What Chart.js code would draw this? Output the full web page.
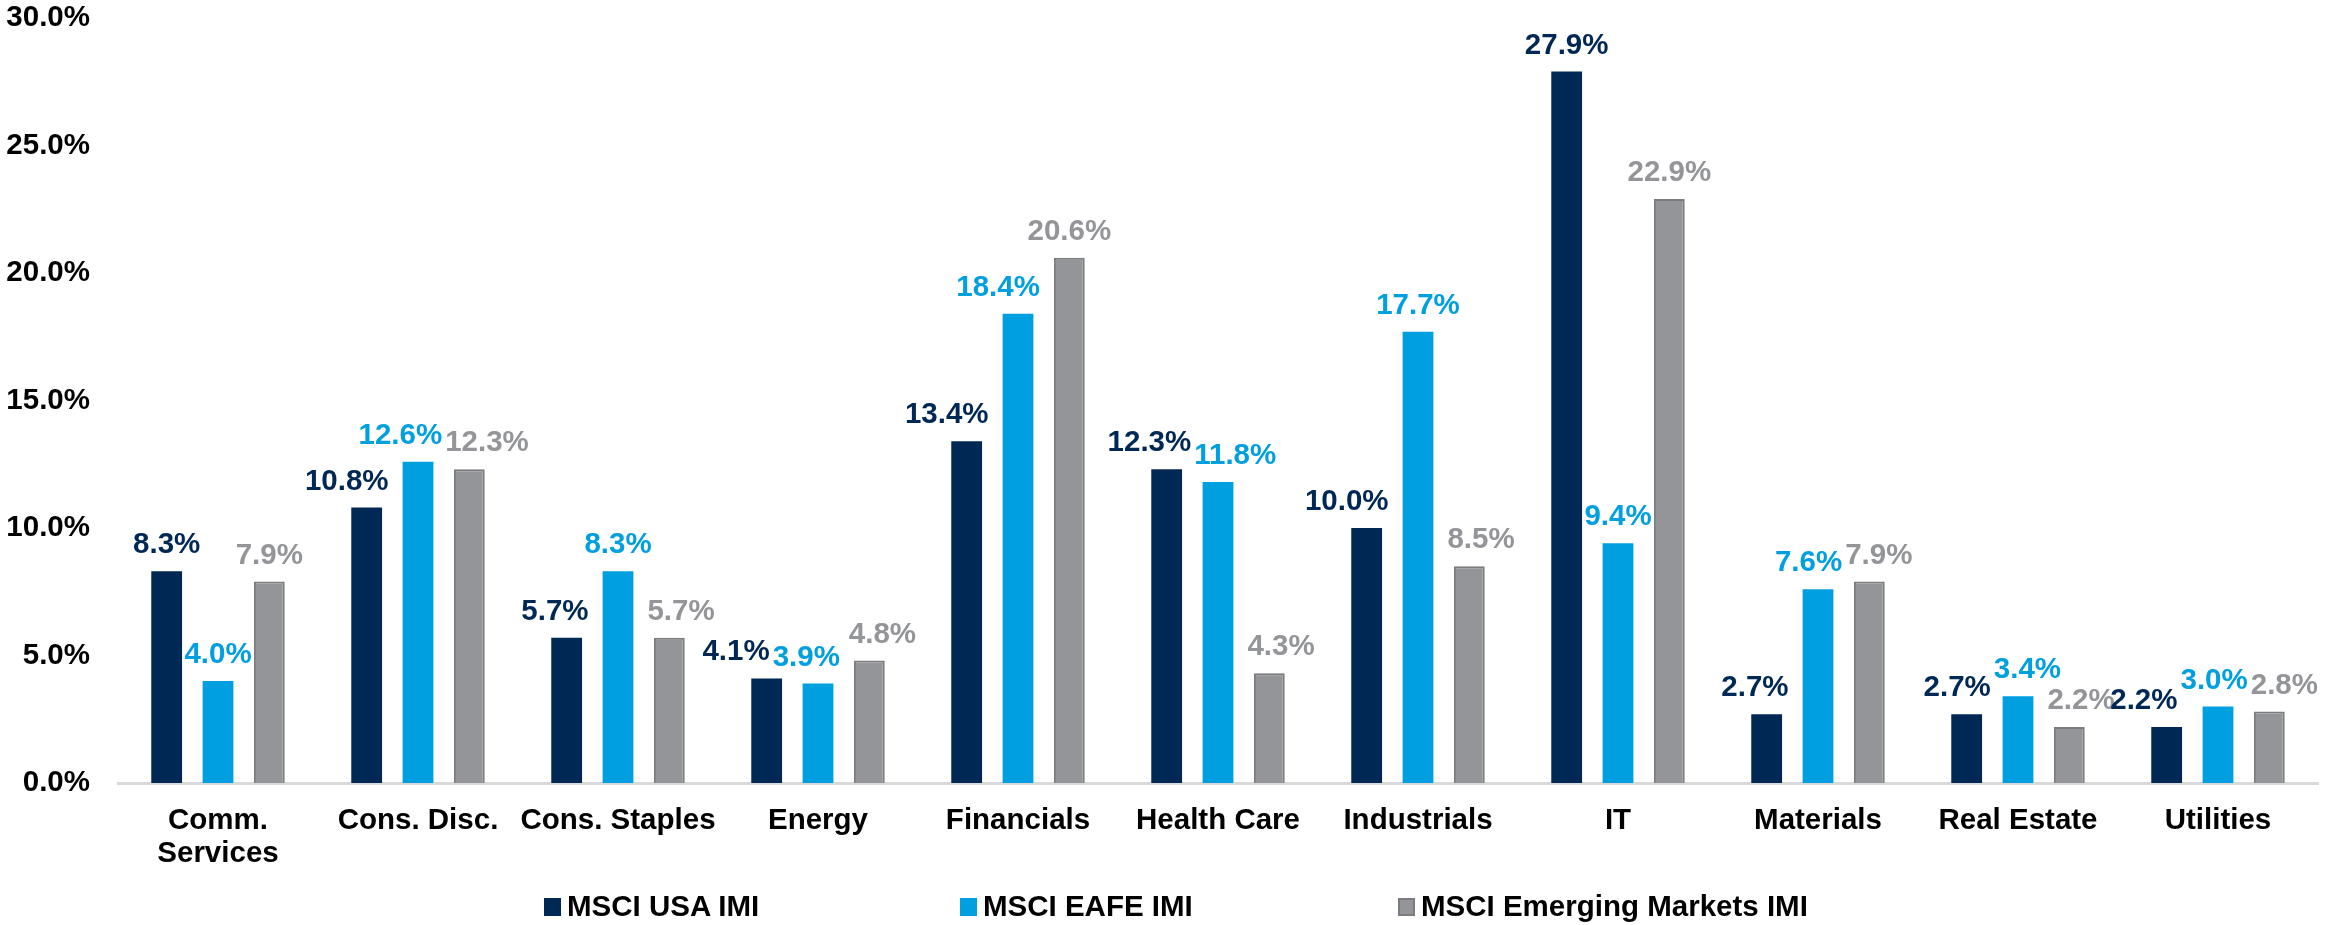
<!DOCTYPE html>
<html>
<head>
<meta charset="utf-8">
<script src="https://cdn.jsdelivr.net/npm/chart.js@4.4.1/dist/chart.umd.min.js"></script>
<style>
  html, body { margin: 0; padding: 0; background: #ffffff; }
  #wrap { position: relative; width: 2336px; height: 925px; }
  #legend { position: absolute; left: 0; top: 891px; width: 2336px; height: 30px;
            font-family: "Liberation Sans", Arial, sans-serif; font-weight: bold; font-size: 29.5px; color: #000; }
  .item { position: absolute; top: 0; display: flex; align-items: flex-end; height: 30px; white-space: nowrap; }
  .box { width: 17px; height: 18px; margin-right: 6px; margin-bottom: 5px; box-sizing: border-box; }
  .txt { line-height: 30px; }
</style>
</head>
<body>
<div id="wrap">
  <canvas id="c" width="2336" height="925"></canvas>
  <div id="legend"></div>
</div>
<script>
const categories = [['Comm.', 'Services'], 'Cons. Disc.', 'Cons. Staples', 'Energy', 'Financials', 'Health Care', 'Industrials', 'IT', 'Materials', 'Real Estate', 'Utilities'];
const seriesNames = ['MSCI USA IMI', 'MSCI EAFE IMI', 'MSCI Emerging Markets IMI'];
const usaValues = [8.3, 10.8, 5.7, 4.1, 13.4, 12.3, 10.0, 27.9, 2.7, 2.7, 2.2];
const eafeValues = [4.0, 12.6, 8.3, 3.9, 18.4, 11.8, 17.7, 9.4, 7.6, 3.4, 3.0];
const emValues = [7.9, 12.3, 5.7, 4.8, 20.6, 4.3, 8.5, 22.9, 7.9, 2.2, 2.8];
const yTicks = [0, 5, 10, 15, 20, 25, 30];

const colors = ['#002855', '#009fdf', '#939598'];
const borders = ['#002855', '#009fdf', '#7b7c7f'];
const FONT = '"Liberation Sans", Arial, sans-serif';

// value labels placed above each bar, nudged sideways to avoid taller neighbouring bars and each other
const valueLabels = {
  id: 'valueLabels',
  afterDatasetsDraw(chart) {
    const ctx = chart.ctx;
    ctx.save();
    ctx.font = 'bold 29.5px ' + FONT;
    ctx.textAlign = 'center';
    ctx.textBaseline = 'alphabetic';
    const nCat = chart.data.labels.length;
    const nDs = chart.data.datasets.length;
    const BAR_GAP = 14, LABEL_GAP = 3, V_OVERLAP = 24;
    for (let j = 0; j < nCat; j++) {
      const bars = [];
      const items = [];
      for (let i = 0; i < nDs; i++) {
        const bar = chart.getDatasetMeta(i).data[j];
        bars.push(bar);
        const text = chart.data.datasets[i].data[j].toFixed(1) + '%';
        items.push({ text, x0: bar.x, x: bar.x, y: bar.y - 18, w: ctx.measureText(text).width, color: colors[i] });
      }
      items.forEach((it, i) => {
        let L = -Infinity, R = Infinity;
        bars.forEach((b, k) => {
          if (k === i || b.y >= it.y) return;
          if (k < i) L = Math.max(L, b.x + b.width / 2 + BAR_GAP + it.w / 2);
          else R = Math.min(R, b.x - b.width / 2 - BAR_GAP - it.w / 2);
        });
        if (L > R) { L = R = it.x0; }
        it.L = L; it.R = R;
        it.x = Math.min(Math.max(it.x, L), R);
      });
      for (let iter = 0; iter < 40; iter++) {
        for (let k = 0; k < items.length - 1; k++) {
          const a = items[k], b = items[k + 1];
          if (Math.abs(a.y - b.y) < V_OVERLAP) {
            const sep = (a.w + b.w) / 2 + LABEL_GAP;
            const d = b.x - a.x;
            if (d < sep) { const p = (sep - d) / 2; a.x -= p; b.x += p; }
          }
        }
        items.forEach(it => { if (it.L !== it.R) it.x = Math.min(Math.max(it.x, it.L), it.R); });
      }
      items.forEach(it => { ctx.fillStyle = it.color; ctx.fillText(it.text, it.x, it.y); });
    }
    ctx.restore();
  }
};

const chart = new Chart(document.getElementById('c'), {
  type: 'bar',
  data: {
    labels: categories,
    datasets: [usaValues, eafeValues, emValues].map((vals, i) => ({
      label: seriesNames[i],
      data: vals,
      backgroundColor: colors[i],
      borderColor: borders[i],
      borderWidth: i === 2 ? 2 : 0,
      categoryPercentage: 0.77,
      barPercentage: 0.6
    }))
  },
  options: {
    responsive: false,
    animation: false,
    layout: { padding: { top: 18, right: 18, left: 0, bottom: 0 } },
    plugins: { legend: { display: false }, tooltip: { enabled: false } },
    scales: {
      x: {
        grid: { display: false, drawTicks: false },
        border: { display: true, color: '#d9d9d9', width: 3 },
        ticks: { color: '#000', font: { family: FONT, weight: 'bold', size: 29.5, lineHeight: 1.12 }, padding: 21, maxRotation: 0, autoSkip: false },
        afterFit(s) { s.height = 142; s.paddingLeft = 0; s.paddingRight = 0; }
      },
      y: {
        min: 0, max: 30,
        afterBuildTicks(s) { s.ticks = yTicks.map(v => ({ value: v })); },
        grid: { display: false, drawTicks: false },
        border: { display: false },
        ticks: { color: '#000', font: { family: FONT, weight: 'bold', size: 29.5 }, padding: 28,
                 callback: v => v.toFixed(1) + '%' },
        afterFit(s) { s.width = 118; s.paddingTop = 0; s.paddingBottom = 0; }
      }
    }
  },
  plugins: [valueLabels]
});

const legendLeft = [544, 960, 1398];
const legend = document.getElementById('legend');
seriesNames.forEach((name, i) => {
  const it = document.createElement('div');
  it.className = 'item';
  it.style.left = legendLeft[i] + 'px';
  const b = document.createElement('div');
  b.className = 'box';
  b.style.background = colors[i];
  if (i === 2) b.style.border = '2px solid ' + borders[i];
  const t = document.createElement('span');
  t.className = 'txt';
  t.textContent = name;
  it.appendChild(b); it.appendChild(t);
  legend.appendChild(it);
});
</script>
</body>
</html>
